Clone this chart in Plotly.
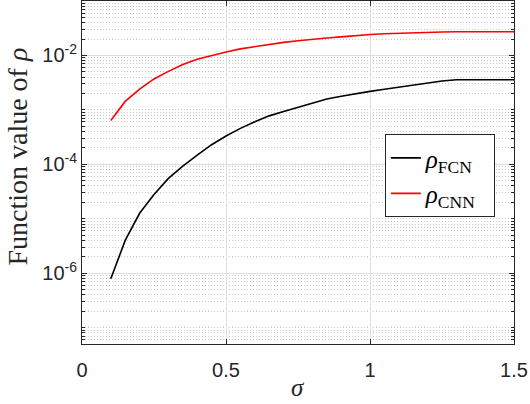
import plotly.graph_objects as go

# sigma grid and function values
sigma = [0.10, 0.15, 0.20, 0.25, 0.30, 0.35, 0.40, 0.45, 0.50, 0.55,
         0.60, 0.65, 0.70, 0.75, 0.80, 0.85, 0.90, 0.95, 1.00, 1.05,
         1.10, 1.15, 1.20, 1.25, 1.30, 1.35, 1.40, 1.45, 1.50]

rho_fcn = [7.9e-7, 4.0e-6, 1.26e-5, 2.8e-5, 5.5e-5, 9.3e-5, 1.48e-4, 2.29e-4, 3.31e-4, 4.57e-4,
           6.03e-4, 7.76e-4, 9.3e-4, 1.10e-3, 1.32e-3, 1.58e-3, 1.78e-3, 2.0e-3, 2.19e-3, 2.40e-3,
           2.63e-3, 2.88e-3, 3.16e-3, 3.39e-3, 3.57e-3, 3.57e-3, 3.57e-3, 3.57e-3, 3.57e-3]

rho_cnn = [6.4e-4, 1.43e-3, 2.4e-3, 3.7e-3, 5.1e-3, 6.8e-3, 8.5e-3, 1.0e-2, 1.16e-2, 1.32e-2,
           1.45e-2, 1.58e-2, 1.74e-2, 1.86e-2, 2.0e-2, 2.09e-2, 2.19e-2, 2.32e-2, 2.43e-2, 2.51e-2,
           2.57e-2, 2.63e-2, 2.65e-2, 2.69e-2, 2.73e-2, 2.73e-2, 2.73e-2, 2.73e-2, 2.73e-2]

x_ticks = [0, 0.5, 1, 1.5]
x_labels = ["0", "0.5", "1", "1.5"]
y_ticks = [1e-6, 1e-4, 1e-2]
y_labels = ["10<sup>-6</sup>", "10<sup>-4</sup>", "10<sup>-2</sup>"]

# minor ticks: every 1..9 x 10^k that is not a labelled tick
minor_vals = [m * 10.0 ** k for k in range(-8, 0) for m in range(1, 10)]
minor_vals = [v for v in minor_vals if all(abs(v / t - 1) > 1e-6 for t in y_ticks)]

axis_color = "#262626"
serif = "Liberation Serif, Times New Roman, serif"
sans = "Liberation Sans, Arial, sans-serif"
pad = "\u00a0\u00a0"  # a little room at the right of the legend text

fig = go.Figure()
fig.add_trace(go.Scatter(x=sigma, y=rho_fcn, mode="lines", name="<i>ρ</i><sub>FCN</sub>" + pad,
                         line=dict(color="black", width=1.6)))
fig.add_trace(go.Scatter(x=sigma, y=rho_cnn, mode="lines", name="<i>ρ</i><sub>CNN</sub>" + pad,
                         line=dict(color="red", width=1.6)))

fig.update_layout(
    width=530, height=404,
    margin=dict(l=82, r=16, t=1, b=60),
    plot_bgcolor="white", paper_bgcolor="white",
    font=dict(family=sans, color=axis_color, size=20),
    legend=dict(
        x=0.701, y=0.612, xanchor="left", yanchor="top",
        bgcolor="white", bordercolor=axis_color, borderwidth=1,
        font=dict(family=serif, size=25, color="black"),
        tracegroupgap=0,
    ),
    xaxis=dict(
        range=[0, 1.5], tickvals=x_ticks, ticktext=x_labels,
        ticks="inside", ticklen=5, tickcolor=axis_color, ticklabelstandoff=8,
        showline=True, linecolor=axis_color, linewidth=1, mirror="allticks",
        showgrid=True, gridcolor="#dedede", gridwidth=1, zeroline=False,
    ),
    yaxis=dict(
        type="log", range=[-7.301, -1],
        tickvals=y_ticks, ticktext=y_labels,
        ticks="inside", ticklen=5, tickcolor=axis_color, ticklabelstandoff=0,
        showline=True, linecolor=axis_color, linewidth=1, mirror="allticks",
        showgrid=True, gridcolor="#dedede", gridwidth=1, zeroline=False,
        minor=dict(tickvals=minor_vals, ticks="inside", ticklen=3, tickcolor=axis_color,
                   showgrid=True, gridcolor="#c8c8c8", griddash="1px,2px", gridwidth=1),
    ),
    annotations=[
        dict(text="Function value of <i>ρ</i>", textangle=-90,
             xref="paper", yref="paper", x=-0.150, y=0.547,
             xanchor="center", yanchor="middle", showarrow=False,
             font=dict(family=serif, size=28, color=axis_color)),
        dict(text="<i>σ</i>",
             xref="paper", yref="paper", x=0.5, y=-0.172,
             xanchor="center", yanchor="bottom", showarrow=False,
             font=dict(family=serif, size=25, color=axis_color)),
    ],
)

fig.write_html("out.html", config={"displayModeBar": False},
               post_script="document.body.style.margin='0';")
